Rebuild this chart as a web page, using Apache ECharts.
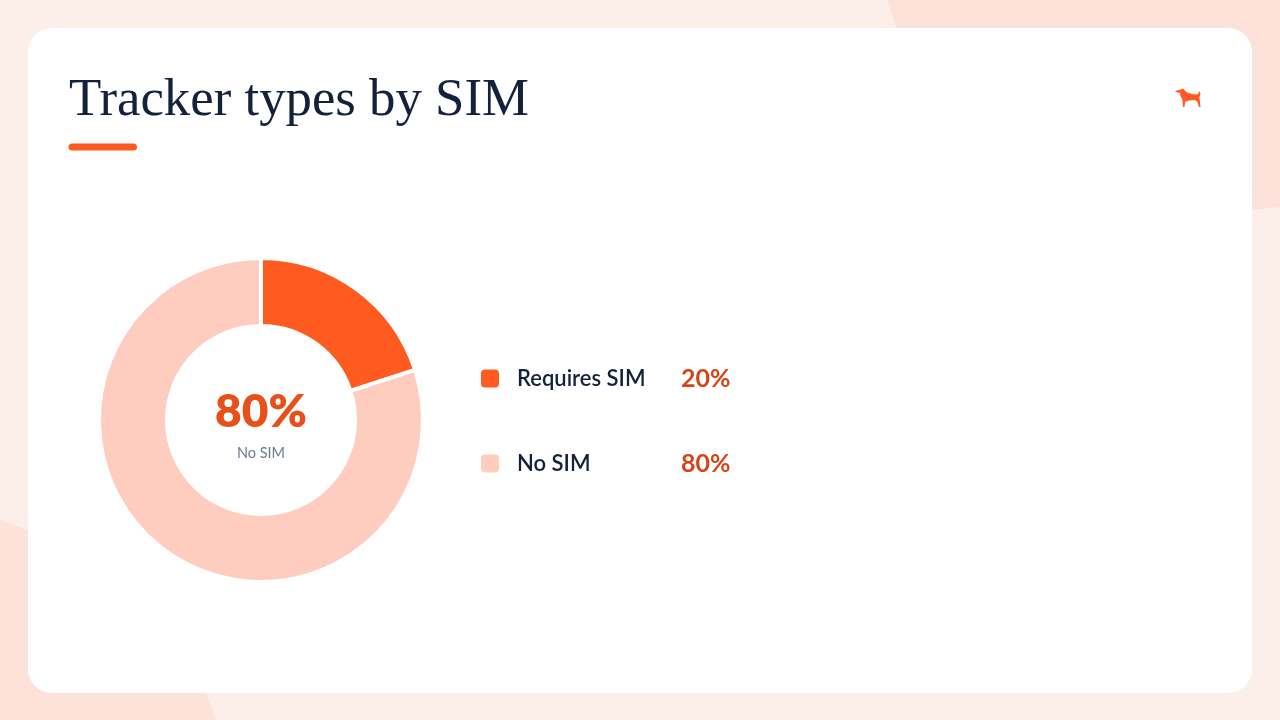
<!DOCTYPE html>
<html><head><meta charset="utf-8">
<style>html,body{margin:0;padding:0;background:#fbeee9;overflow:hidden}#c{width:1280px;height:720px}</style>
<script src="https://cdn.jsdelivr.net/npm/echarts@6/dist/echarts.min.js"></script>
</head><body><div id="c"></div>
<script>
const titleText = 'Tracker types by SIM';
const categories = ['Requires SIM', 'No SIM'];
const values = [20, 80];
const sliceColors = ['#ff5a1f', '#fecdbf'];
const centerValue = '80%';
const centerLabel = 'No SIM';

const chart = echarts.init(document.getElementById('c'), null, {renderer:'canvas', width:1280, height:720});
chart.setOption({
  animation:false,
  backgroundColor:'#fcefea',
  title:{text:titleText,left:69,top:71,padding:0,
    textStyle:{fontFamily:'"Liberation Serif",serif',fontSize:52.8,fontWeight:'normal',color:'#14213a',lineHeight:60}},
  graphic:[
    {type:'polygon',z:-10,shape:{points:[[887,0],[1280,0],[1280,207],[1252,210],[1000,240],[900,40]]},style:{fill:'#fde2da'},silent:true},
    {type:'polygon',z:-10,shape:{points:[[0,519],[28,530],[100,560],[180,620],[216,720],[0,720]]},style:{fill:'#fde2da'},silent:true},
    {type:'rect',z:-5,shape:{x:28,y:28,width:1224,height:665,r:24},style:{fill:'#ffffff'},silent:true},
    {type:'rect',z:5,shape:{x:68.5,y:143.5,width:68.5,height:7,r:3.5},style:{fill:'#ff5a1f'},silent:true},
    {type:'polygon',z:5,silent:true,style:{fill:'#ff5a1f'},shape:{points:[
      [1175,91],[1181,89.5],[1183,88.5],[1184.5,90],[1187,92.5],[1192,94],[1197,94.5],[1199,93],[1198.5,91],[1200,92],[1200.5,94],
      [1199.5,97],[1200,102],[1200.5,107],[1199,107],[1197.5,102],[1195,100],[1189,100.5],[1185,102],[1184.5,107],[1183,107],[1182.5,100],[1180.5,96],[1180,93],[1176,92]]}},
    {type:'text',z:6,silent:true,style:{x:261,y:412,text:centerValue,align:'center',verticalAlign:'middle',
      font:'800 46px Lato',fill:'#e8501a'}},
    {type:'text',z:6,silent:true,style:{x:261,y:453,text:centerLabel,align:'center',verticalAlign:'middle',
      font:'400 14.5px Lato',fill:'#6b7a90'}}
  ],
  legend:{
    orient:'vertical',left:479,top:366,itemWidth:20,itemHeight:20,itemGap:60,icon:'roundRect',
    selectedMode:false,padding:0,
    data:categories,
    formatter:function(n){
      const v=values[categories.indexOf(n)];
      return '{n|'+n+'}{v|'+v+'%}';
    },
    textStyle:{rich:{
      n:{width:164,fontFamily:'Lato',fontSize:22,fontWeight:600,color:'#14213a',padding:[0,0,0,12]},
      v:{fontFamily:'Lato',fontSize:25,fontWeight:700,color:'#d4451a'}
    }}
  },
  series:[{
    type:'pie',center:[261,420],radius:[94,162],startAngle:90,clockwise:true,
    label:{show:false},labelLine:{show:false},silent:true,
    itemStyle:{borderColor:'#fff',borderWidth:4},
    data:categories.map((n,i)=>({name:n,value:values[i],itemStyle:{color:sliceColors[i]}}))
  }]
});
</script></body></html>
